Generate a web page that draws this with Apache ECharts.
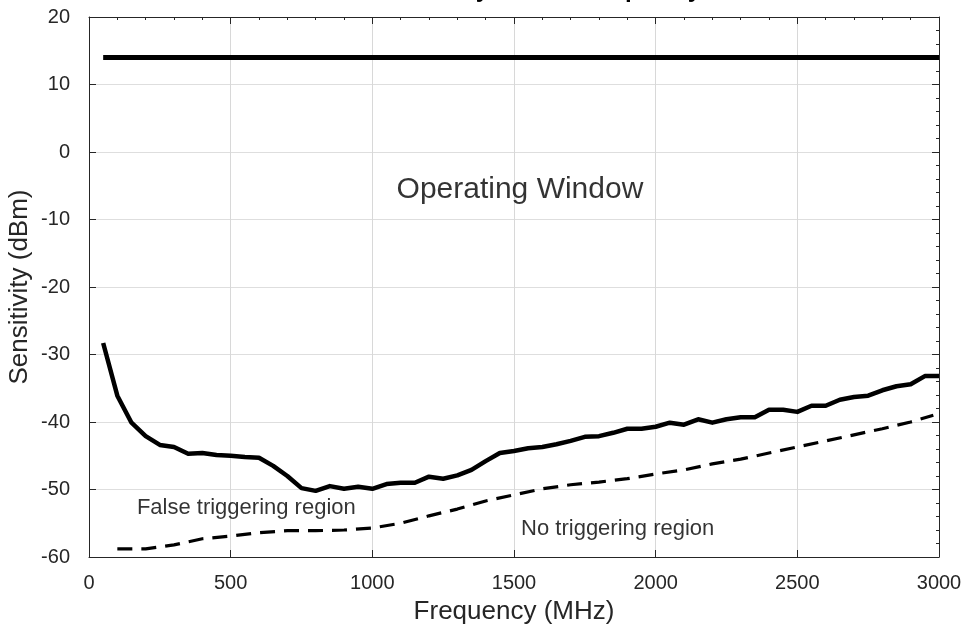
<!DOCTYPE html>
<html>
<head>
<meta charset="utf-8">
<script src="https://cdn.jsdelivr.net/npm/echarts@6/dist/echarts.min.js"></script>
<style>
  html, body { margin: 0; padding: 0; background: #fff; }
  #chart { width: 966px; height: 631px; }
</style>
</head>
<body>
<div id="chart"></div>
<script>
// upper limit (max input power)
var maxFreq = [50, 3000];
var maxSens = [14, 14];

// triggering threshold (solid)
var thrFreq = [50, 100, 150, 200, 250, 300, 350, 400, 450, 500, 550, 600, 650, 700, 750, 800, 850, 900, 950, 1000,
  1050, 1100, 1150, 1200, 1250, 1300, 1350, 1400, 1450, 1500, 1550, 1600, 1650, 1700, 1750, 1800, 1850, 1900, 1950, 2000,
  2050, 2100, 2150, 2200, 2250, 2300, 2350, 2400, 2450, 2500, 2550, 2600, 2650, 2700, 2750, 2800, 2850, 2900, 2950, 3000];
var thrSens = [-28.3, -36.1, -40.1, -42.1, -43.4, -43.7, -44.7, -44.6, -44.9, -45.0, -45.2, -45.3, -46.5, -48.0, -49.8, -50.2, -49.5, -49.9, -49.6, -49.9,
  -49.2, -49.0, -49.0, -48.1, -48.4, -47.9, -47.1, -45.8, -44.6, -44.3, -43.9, -43.7, -43.3, -42.8, -42.2, -42.1, -41.6, -41.0, -41.0, -40.7,
  -40.1, -40.4, -39.6, -40.1, -39.6, -39.3, -39.3, -38.2, -38.2, -38.5, -37.6, -37.6, -36.7, -36.3, -36.1, -35.3, -34.7, -34.4, -33.2, -33.2];

// no-triggering boundary (dashed)
var lowFreq = [100, 200, 300, 400, 500, 600, 700, 800, 900, 1000, 1100, 1200, 1300, 1400, 1500,
  1600, 1700, 1800, 1900, 2000, 2100, 2200, 2300, 2400, 2500, 2600, 2700, 2800, 2900, 2980];
var lowSens = [-58.8, -58.8, -58.2, -57.3, -56.9, -56.4, -56.1, -56.1, -56.0, -55.7, -55.0, -53.9, -52.9, -51.7, -50.8,
  -49.9, -49.3, -48.9, -48.4, -47.7, -47.1, -46.2, -45.5, -44.6, -43.7, -42.8, -41.9, -41.0, -40.0, -39.0];

// region labels
var noteText = ["Operating Window", "False triggering region", "No triggering region"];
var noteFreq = [1521, 169, 1525];
var noteSens = [-5.6, -52.7, -55.9];

var xTicks = [0, 500, 1000, 1500, 2000, 2500, 3000];
var yTicks = [-60, -50, -40, -30, -20, -10, 0, 10, 20];

function pairs(xs, ys) {
  return xs.map(function (x, i) { return [x, ys[i]]; });
}

var axisColor = "#262626";
var font = "Liberation Sans, Arial, sans-serif";

function baseAxis(extra) {
  var a = {
    type: "value",
    axisLine: { show: true, onZero: false, lineStyle: { color: axisColor, width: 1 } },
    axisTick: { show: true, inside: true, length: 7, lineStyle: { color: axisColor } },
    minorTick: { show: false },
    splitLine: { show: false },
    axisLabel: { show: false }
  };
  for (var k in extra) a[k] = extra[k];
  return a;
}

var myChart = echarts.init(document.getElementById("chart"));

var options = {
  animation: false,
  backgroundColor: "#fff",
  title: {
    text: "Sensitivity versus Frequency",
    left: 530,
    textAlign: "center",
    top: -27,
    textStyle: { fontFamily: font, fontSize: 24, fontWeight: "bold", color: "#000" }
  },
  grid: { left: 89, right: 27, top: 17, bottom: 74, outerBoundsMode: "none" },
  xAxis: [
    baseAxis({
      position: "bottom",
      min: xTicks[0], max: xTicks[xTicks.length - 1], interval: 500,
      name: "Frequency (MHz)",
      nameLocation: "middle",
      nameGap: 42,
      nameMoveOverlap: false,
      nameTextStyle: { fontFamily: font, fontSize: 26, color: axisColor },
      splitLine: { show: true, lineStyle: { color: "#d8d8d8", width: 1 } },
      axisLabel: {
        show: true, margin: 16, fontFamily: font, fontSize: 20, color: axisColor,
        formatter: function (v) { return String(v); }
      }
    }),
    baseAxis({
      position: "top", min: xTicks[0], max: xTicks[xTicks.length - 1], interval: 500,
      minorTick: { show: true, splitNumber: 5, length: 3, lineStyle: { color: axisColor } }
    })
  ],
  yAxis: [
    baseAxis({
      position: "left",
      min: yTicks[0], max: yTicks[yTicks.length - 1], interval: 10,
      name: "Sensitivity (dBm)",
      nameLocation: "middle",
      nameGap: 56,
      nameMoveOverlap: false,
      nameTextStyle: { fontFamily: font, fontSize: 26, color: axisColor },
      splitLine: { show: true, lineStyle: { color: "#dedede", width: 1 } },
      axisLabel: {
        show: true, margin: 19, fontFamily: font, fontSize: 20, color: axisColor,
        formatter: function (v) { return String(v); }
      }
    }),
    baseAxis({
      position: "right", min: yTicks[0], max: yTicks[yTicks.length - 1], interval: 10,
      minorTick: { show: true, splitNumber: 5, length: 3, lineStyle: { color: axisColor } }
    })
  ],
  series: [
    {
      name: "Max",
      type: "line",
      data: pairs(maxFreq, maxSens),
      symbol: "none",
      lineStyle: { color: "#000", width: 5 }
    },
    {
      name: "Threshold",
      type: "line",
      data: pairs(thrFreq, thrSens),
      symbol: "none",
      lineStyle: { color: "#000", width: 4.5, join: "round" }
    },
    {
      name: "Lower",
      type: "line",
      data: pairs(lowFreq, lowSens),
      symbol: "none",
      lineStyle: { color: "#000", width: 3.2, type: [15, 9] }
    },
    {
      name: "Notes",
      type: "scatter",
      symbolSize: 0,
      silent: true,
      data: noteFreq.map(function (f, i) {
        return {
          value: [f, noteSens[i]],
          label: {
            show: true,
            formatter: noteText[i],
            position: i === 0 ? "inside" : "right",
            distance: 0,
            fontFamily: font,
            fontSize: i === 0 ? 30 : 22,
            color: "#000"
          }
        };
      })
    }
  ]
};

myChart.setOption(options);
</script>
</body>
</html>
